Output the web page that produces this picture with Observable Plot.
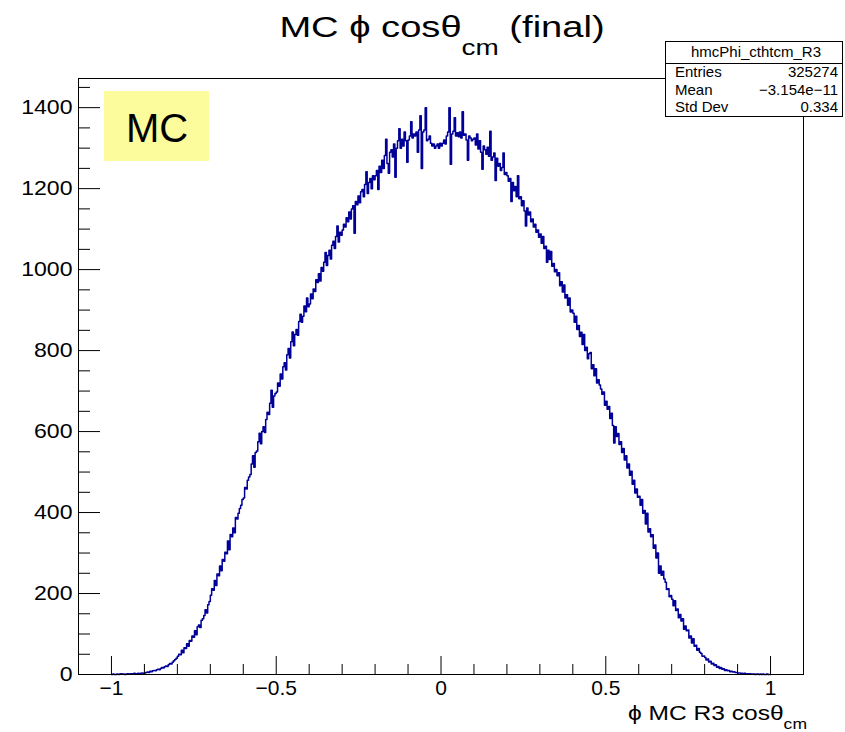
<!DOCTYPE html>
<html><head><meta charset="utf-8">
<script src="https://cdn.jsdelivr.net/npm/d3@7"></script>
<script src="https://cdn.jsdelivr.net/npm/@observablehq/plot@0.6"></script>
<style>body{margin:0;background:#fff}</style>
</head><body><div id="chart"></div>
<script>
// Histogram range and bin contents (500 bins over [-1, 1])
const xMin = -1, xMax = 1;
const counts = [
  0,1,0,0,1,0,1,2,1,1,0,1,2,1,2,2,1,3,2,2,3,2,3,4,3,
  4,5,6,5,8,7,9,10,9,12,13,12,15,17,16,19,21,20,24,27,26,30,34,37,40,
  45,50,49,60,54,66,64,76,70,84,82,95,92,108,98,118,122,116,134,138,146,160,152,172,180,
  196,212,208,232,220,248,244,268,256,284,280,302,298,330,308,346,340,362,350,388,384,398,410,418,432,
  436,462,458,480,488,494,520,540,512,548,552,575,596,570,600,612,598,630,648,642,670,702,660,688,694,
  698,720,712,742,730,760,770,752,790,805,782,822,846,812,840,852,838,872,890,870,885,910,896,930,908,
  915,940,928,952,946,975,968,990,972,1005,996,1018,1042,1010,1035,1048,1026,1060,1070,1052,1082,1108,1068,1092,1085,
  1098,1112,1105,1128,1118,1142,1125,1150,1158,1090,1168,1160,1182,1165,1192,1198,1180,1210,1242,1188,1215,1225,1200,1232,1222,
  1232,1245,1198,1255,1240,1270,1250,1282,1322,1262,1238,1290,1296,1278,1310,1228,1300,1318,1348,1300,1322,1305,1340,1318,1265,
  1320,1330,1365,1325,1335,1330,1340,1290,1345,1380,1250,1340,1345,1400,1318,1322,1330,1312,1305,1310,1300,1305,1310,1300,1312,
  1305,1312,1320,1310,1330,1340,1400,1260,1335,1342,1375,1330,1338,1328,1340,1325,1390,1332,1335,1320,1270,1330,1325,1318,1322,
  1325,1308,1335,1298,1318,1290,1248,1305,1296,1285,1302,1280,1342,1270,1278,1288,1220,1275,1255,1262,1245,1252,1288,1235,1240,
  1232,1218,1225,1168,1215,1195,1205,1180,1232,1175,1180,1158,1170,1145,1108,1152,1135,1142,1118,1125,1105,1112,1092,1098,1080,
  1088,1065,1082,1052,1058,1018,1048,1025,1045,1008,1015,995,1000,985,992,960,970,945,962,930,938,912,930,895,900,
  892,870,885,852,862,835,845,815,840,800,808,780,792,795,755,765,738,755,720,728,715,705,692,698,665,
  675,655,662,632,645,615,572,612,588,595,568,575,548,558,530,540,510,520,492,502,470,480,448,458,438,
  440,418,432,398,405,372,398,352,360,340,345,312,320,288,300,250,268,245,255,236,228,210,212,192,195,
  186,170,182,158,162,140,148,132,138,112,120,108,110,90,95,78,88,70,72,60,64,55,52,45,46,
  42,36,38,31,33,26,28,22,24,18,20,15,17,13,14,10,12,9,10,7,8,6,7,5,5,
  4,4,3,3,2,3,2,2,1,2,1,1,1,0,1,1,0,1,0,1,0,0,1,0,0
];
const xAxisRange = [-1.1, 1.1];
const yAxisRange = [0, 1472];
const xTicksMajor = [-1, -0.5, 0, 0.5, 1];
const xTicksMinor = [-0.9, -0.8, -0.7, -0.6, -0.4, -0.3, -0.2, -0.1, 0.1, 0.2, 0.3, 0.4, 0.6, 0.7, 0.8, 0.9];
const yTicksMajor = [0, 200, 400, 600, 800, 1000, 1200, 1400];
const yTicksMinor = [50, 100, 150, 250, 300, 350, 450, 500, 550, 650, 700, 750, 850, 900, 950, 1050, 1100, 1150, 1250, 1300, 1350, 1450];
const histName = "hmcPhi_cthtcm_R3";
const statsLabels = ["Entries", "Mean", "Std Dev"];
const statsValues = ["325274", "\u22123.154e\u221211", "0.334"];

const nb = counts.length, bw = (xMax - xMin) / nb;
const pts = counts.map((c, i) => ({x: xMin + i * bw, y: c}));
pts.push({x: xMax, y: counts[nb - 1]});

const W = 845, H = 732, mL = 78, mR = 42, mT = 78, mB = 58;
const fw = W - mL - mR, fh = H - mT - mB;
const FONT = "'Liberation Sans', Arial, Helvetica, sans-serif";
const fmtX = d => d === 0 ? "0" : (d < 0 ? "\u2212" : "") + Math.abs(d);
const fmtY = d => String(d);

const plot = Plot.plot({
  width: W, height: H,
  marginLeft: mL, marginRight: mR, marginTop: mT, marginBottom: mB,
  x: {domain: xAxisRange},
  y: {domain: yAxisRange},
  style: {fontFamily: FONT, fontSize: "21px", color: "#000", background: "#fff"},
  marks: [
    Plot.line(pts, {x: "x", y: "y", curve: "step-after", stroke: "#000099", strokeWidth: 1.5}),
    Plot.tickX(xTicksMajor, {x: d => d, insetTop: fh - 18, stroke: "#000"}),
    Plot.tickX(xTicksMinor, {x: d => d, insetTop: fh - 10, stroke: "#000"}),
    Plot.tickY(yTicksMajor, {y: d => d, insetRight: fw - 22, stroke: "#000"}),
    Plot.tickY(yTicksMinor, {y: d => d, insetRight: fw - 12, stroke: "#000"}),
    Plot.frame({stroke: "#000"}),
    Plot.axisX(xTicksMajor, {tickSize: 0, tickPadding: 6, tickFormat: fmtX, label: null, fontSize: 21}),
    Plot.axisY(yTicksMajor, {tickSize: 0, tickPadding: 6, tickFormat: fmtY, label: null, fontSize: 21})
  ]
});
document.getElementById("chart").appendChild(plot);

const svg = d3.select(plot);
// widen y tick labels slightly (reference glyphs are horizontally stretched)
svg.selectAll("g[aria-label='y-axis tick label'] text").each(function() {
  const tr = this.getAttribute("transform") || "";
  this.setAttribute("transform", tr + " scale(1.1,1)");
});

// Title
const t = svg.append("text").attr("transform", "translate(442,37) scale(1.27,1)").attr("text-anchor", "middle")
  .attr("font-family", FONT).attr("font-size", 30).attr("fill", "#000");
t.append("tspan").text("MC \u03D5 cos\u03B8");
t.append("tspan").attr("font-size", 22).attr("dy", 18).text("cm");
t.append("tspan").attr("dy", -18).text(" (final)");

// X axis title
const xt = svg.append("text").attr("transform", "translate(807,720) scale(1.17,1)").attr("text-anchor", "end")
  .attr("font-family", FONT).attr("font-size", 21).attr("fill", "#000");
xt.append("tspan").text("\u03D5 MC R3 cos\u03B8");
xt.append("tspan").attr("font-size", 15).attr("dy", 9).text("cm");

// MC label box
svg.append("rect").attr("x", 104).attr("y", 91).attr("width", 105).attr("height", 70).attr("fill", "#fcfc9c");
svg.append("text").attr("x", 157).attr("y", 142).attr("text-anchor", "middle")
  .attr("font-family", FONT).attr("font-size", 40).attr("fill", "#000").text("MC");

// Stats box
const sb = svg.append("g").attr("font-family", FONT).attr("font-size", 15).attr("fill", "#000");
sb.append("rect").attr("x", 665.5).attr("y", 41.5).attr("width", 177).attr("height", 75)
  .attr("fill", "#fff").attr("stroke", "#000");
sb.append("line").attr("x1", 665.5).attr("x2", 842.5).attr("y1", 63.5).attr("y2", 63.5).attr("stroke", "#000");
sb.append("text").attr("x", 756).attr("y", 57).attr("text-anchor", "middle").text(histName);
statsLabels.forEach((s, i) => {
  sb.append("text").attr("x", 675).attr("y", 77 + i * 17.5).attr("text-anchor", "start").text(s);
  sb.append("text").attr("x", 838).attr("y", 77 + i * 17.5).attr("text-anchor", "end").text(statsValues[i]);
});
</script>
</body></html>
